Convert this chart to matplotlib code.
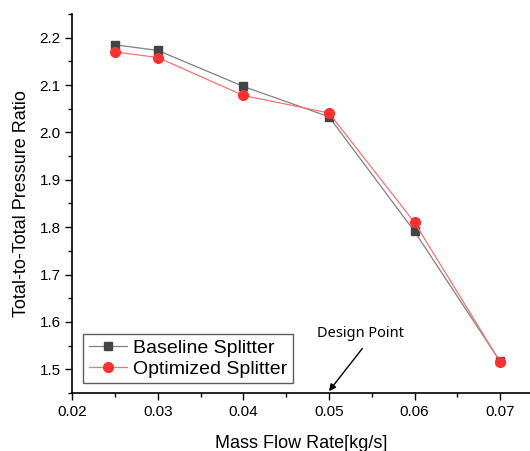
import matplotlib
matplotlib.use("Agg")
import matplotlib.pyplot as plt
from matplotlib.ticker import MultipleLocator

mass_flow = [0.025, 0.03, 0.04, 0.05, 0.06, 0.07]
baseline = [2.185, 2.173, 2.097, 2.033, 1.791, 1.517]
optimized = [2.170, 2.158, 2.078, 2.041, 1.810, 1.516]
x_ticks = [0.02, 0.03, 0.04, 0.05, 0.06, 0.07]
y_ticks = [1.5, 1.6, 1.7, 1.8, 1.9, 2.0, 2.1, 2.2]

plt.rcParams["font.family"] = ["Liberation Sans", "DejaVu Sans"]

fig = plt.figure(figsize=(5.30, 4.51), dpi=100)
ax = fig.add_axes([0.1365, 0.1286, 0.8635, 0.8404])

ax.plot(mass_flow, baseline, color="#808080", lw=0.9, marker="s", ms=6.2,
        mfc="#444444", mec="#444444", label="Baseline Splitter", zorder=3)
ax.plot(mass_flow, optimized, color="#ff7070", lw=0.9, marker="o", ms=7,
        mfc="#ff3030", mec="#ff3030", label="Optimized Splitter", zorder=4)

ax.set_xlim(0.02, 0.0735)
ax.set_ylim(1.45, 2.25)
ax.set_xticks(x_ticks)
ax.set_yticks(y_ticks)
ax.set_xticklabels([f"{v:.2f}" for v in x_ticks])
ax.set_yticklabels([f"{v:.1f}" for v in y_ticks])
ax.xaxis.set_minor_locator(MultipleLocator(0.005))
ax.yaxis.set_minor_locator(MultipleLocator(0.05))

for s in ("top", "right"):
    ax.spines[s].set_visible(False)
for s in ("left", "bottom"):
    ax.spines[s].set_linewidth(1.2)
ax.tick_params(which="major", direction="out", length=5, width=1.0, labelsize=11)
ax.tick_params(which="minor", direction="out", length=3, width=1.0)

ax.set_xlabel("Mass Flow Rate[kg/s]", fontsize=13, labelpad=12)
ax.set_ylabel("Total-to-Total Pressure Ratio", fontsize=13, labelpad=7)

leg = ax.legend(loc="lower left", bbox_to_anchor=(0.01, 0.01), fontsize=14,
                frameon=True, fancybox=False, edgecolor="#333333",
                handlelength=2.0, borderpad=0.3, labelspacing=0.15,
                handletextpad=0.3, borderaxespad=0.3)
leg.get_frame().set_linewidth(1.0)

# Design point marker: label plus arrow pointing at the axis
ax.text(0.0537, 1.575, "Design Point", ha="center", va="center",
        fontsize=10.5, family=["Noto Sans", "DejaVu Sans"])
ax.annotate("", xy=(0.05, 1.454), xytext=(0.0539, 1.544),
            arrowprops=dict(arrowstyle="-|>", color="black", lw=1.0,
                            mutation_scale=10, shrinkA=0, shrinkB=0))

fig.savefig("out.png", dpi=100)
